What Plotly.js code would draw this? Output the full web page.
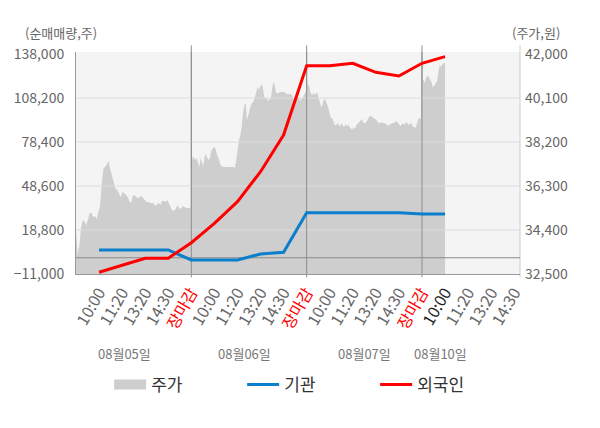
<!DOCTYPE html>
<html>
<head>
<meta charset="utf-8">
<script src="https://cdn.plot.ly/plotly-3.0.1.min.js"></script>
<style>
  html, body { margin: 0; padding: 0; background: #fff; }
  #myDiv { width: 600px; height: 428px; }
</style>
</head>
<body>
<div id="myDiv"></div>
<script>
const config = {
    displayModeBar: false,
    staticPlot: true
};

// 날짜 / 시간 눈금
var days = ['08월05일', '08월06일', '08월07일', '08월10일'];
var sessionTicks = ['10:00', '11:20', '13:20', '14:30', '장마감'];
var lastDayTicks = ['10:00', '11:20', '13:20', '14:30'];

// 주가 (원) - 일별 분 단위
var price0805 = [34400, 33350, 33750, 34530, 34830, 34750, 34620, 34920, 35130, 35130, 34960, 35000, 34870, 35180, 35440,
    36430, 37080, 37120, 37290, 37380, 36990, 36690, 36430, 36170, 36130, 36000, 35820, 36040, 36000, 35910, 35820,
    35650, 35570, 35870, 35910, 35820, 35780, 35820, 35870, 35780, 35700, 35610, 35610, 35570, 35570, 35570, 35440,
    35520, 35570, 35480, 35650, 35650, 35610, 35700, 35570, 35390, 35220, 35260, 35310, 35480, 35350, 35310, 35440,
    35390, 35350, 35350, 35350, 35350];
var price0806 = [37130, 37570, 37510, 37420, 37510, 37290, 37120, 37510, 37290, 37160, 37550, 37680, 37510, 37420, 37510,
    37810, 37900, 37980, 37940, 37720, 37550, 37420, 37210, 37160, 37120, 37120, 37120, 37120, 37120, 37120, 37120,
    37120, 37120, 37080, 37550, 38070, 38290, 38500, 38850, 39450, 39800, 39880, 39150, 39370, 39580, 39800, 39880,
    39970, 40140, 40360, 40580, 40450, 40620, 40700, 40530, 40140, 40060, 40100, 39970, 40060, 40100, 40490, 40790,
    40620, 40320, 40320, 40320, 40360, 40360, 40360, 40360, 40320, 40270, 40270, 40270, 40270, 40230, 40060, 39930,
    40100, 40100, 40140, 39970, 40060, 40100, 40230, 40360, 40450];
var price0807 = [40660, 40730, 40570, 40320, 40230, 40320, 40230, 40320, 40320, 40140, 39880, 39670, 39880, 40060, 40010,
    39880, 39710, 39450, 39240, 39240, 39060, 38930, 38930, 39020, 38930, 38890, 39020, 38890, 38850, 38980, 38890,
    38930, 38850, 38800, 38720, 38850, 38760, 38930, 38980, 39060, 39110, 39190, 39060, 39020, 39020, 39110, 39240,
    39320, 39320, 39280, 39240, 39190, 39150, 39060, 39020, 39020, 39060, 39020, 39020, 38980, 38930, 38890, 38980,
    38980, 39020, 39020, 39060, 39110, 39020, 38980, 38890, 38980, 39020, 38930, 39060, 39020, 38930, 38980, 39020,
    38890, 38850, 38800, 38930, 39150, 39240, 39190, 39190];
var price0810 = [40750, 40880, 40750, 40960, 41050, 41010, 40920, 40790, 40570, 40620, 40750, 40790, 41180, 41520, 41440,
    41570, 41610, 41610];

// 순매매량 (주) - 시간 눈금별 누적
var institution = [5260, 5260, 5260, 5260, -1520, -1520, -1520, 2550, 3700, 30520, 30520, 30520, 30520, 30520, 29640, 29640];
var foreign = [-9850, -4900, -300, -300, 10200, 23340, 37970, 58290, 83150, 130080, 130080, 131710, 125610, 123100, 131710, 136180];

// 축 눈금
var volumeTicks = [-11000, 18800, 48600, 78400, 108200, 138000];
var priceTicks = [32500, 34400, 36300, 38200, 40100, 42000];

// ---- 가로축 위치 계산 ----
var daySpan = sessionTicks.length;
var priceDays = [price0805, price0806, price0807, price0810];
var lastDaySpan = 1; // 08월10일은 10:00 까지

var priceX = [], priceY = [];
priceDays.forEach(function (arr, d) {
    var span = d === priceDays.length - 1 ? lastDaySpan : daySpan;
    arr.forEach(function (v, i) {
        priceX.push(d * daySpan + span * i / (arr.length - 1));
        priceY.push(v);
    });
});

var tickText = [];
days.forEach(function (day, d) {
    var labels = d === days.length - 1 ? lastDayTicks : sessionTicks;
    labels.forEach(function (t, i) {
        if (t === '장마감') tickText.push('<span style="color:#ff0000">' + t + '</span>');
        else if (d === days.length - 1 && i === 0) tickText.push('<span style="color:#222222">' + t + '</span>');
        else tickText.push(t);
    });
});
var tickVals = tickText.map(function (t, i) { return i + 1; });
var lineX = institution.map(function (v, i) { return i + 1; });

var xMax = tickVals.length + 0.25;
var boundaries = [1, 2, 3].map(function (d) { return d * daySpan; });

var volRange = [-11000, 139350];
var priceRange = [32500, 42086];

var data = [
    // 범례용 (사각형 기호)
    {
        type: 'scatter',
        mode: 'lines',
        name: '주가',
        x: [null],
        y: [null],
        yaxis: 'y',
        line: { color: '#cecece', width: 14 },
        hoverinfo: 'skip'
    },
    {
        type: 'scatter',
        mode: 'lines',
        name: '주가',
        x: priceX,
        y: priceY,
        yaxis: 'y',
        fill: 'tozeroy',
        fillcolor: '#cecece',
        showlegend: false,
        line: { color: '#cecece', width: 0 },
        hoverinfo: 'skip'
    }
];

// 격자선 (주가 영역 위)
volumeTicks.slice(1, -1).forEach(function (v) {
    data.push({
        type: 'scatter', mode: 'lines', x: [0, xMax], y: [v, v], yaxis: 'y2',
        showlegend: false, hoverinfo: 'skip',
        line: { color: '#dcdcdc', width: 1 }
    });
});
data.push({
    type: 'scatter', mode: 'lines', x: [0, xMax], y: [0, 0], yaxis: 'y2',
    showlegend: false, hoverinfo: 'skip',
    line: { color: '#8a8a8a', width: 1 }
});
boundaries.forEach(function (b) {
    data.push({
        type: 'scatter', mode: 'lines', x: [b, b], y: volRange, yaxis: 'y2',
        showlegend: false, hoverinfo: 'skip',
        line: { color: '#8f8f8f', width: 1 }
    });
});

data.push({
    type: 'scatter',
    mode: 'lines',
    name: '기관',
    x: lineX,
    y: institution,
    yaxis: 'y2',
    line: { color: '#0a7fcc', width: 3 }
});
data.push({
    type: 'scatter',
    mode: 'lines',
    name: '외국인',
    x: lineX,
    y: foreign,
    yaxis: 'y2',
    line: { color: '#ff0000', width: 3 }
});

var shapes = boundaries.map(function (b) {
    return {
        type: 'line', layer: 'below', xref: 'x', yref: 'paper',
        x0: b, x1: b, y0: -0.015, y1: 1.03,
        line: { color: '#8f8f8f', width: 1 }
    };
});
shapes.push({
    type: 'line', layer: 'below', xref: 'paper', yref: 'paper',
    x0: 1, x1: 1, y0: -0.015, y1: 1.03,
    line: { color: '#cccccc', width: 1 }
});

var dateLabelX = [2.1, 7.3, 12.5, 15.8];
var annotations = days.map(function (day, d) {
    return {
        text: day, x: dateLabelX[d], xref: 'x', y: -0.356, yref: 'paper',
        showarrow: false, xanchor: 'center', yanchor: 'middle',
        font: { size: 13, color: '#777777' }
    };
});
annotations.push({
    text: '(순매매량,주)', x: -0.034, xref: 'paper', y: 1.086, yref: 'paper',
    showarrow: false, xanchor: 'center', yanchor: 'middle',
    font: { size: 13, color: '#666666' }
});
annotations.push({
    text: '(주가,원)', x: 1.035, xref: 'paper', y: 1.086, yref: 'paper',
    showarrow: false, xanchor: 'center', yanchor: 'middle',
    font: { size: 13, color: '#666666' }
});

var layout = {
    width: 600,
    height: 428,
    margin: { l: 76, r: 80, t: 52, b: 154, pad: 0 },
    paper_bgcolor: '#ffffff',
    plot_bgcolor: '#f4f4f4',
    font: { family: 'Noto Sans CJK KR, Noto Sans, sans-serif', size: 14, color: '#666666' },
    showlegend: true,
    legend: {
        orientation: 'h',
        x: 0.524, xanchor: 'center',
        y: -0.5, yanchor: 'middle',
        entrywidth: 86,
        itemwidth: 32,
        font: { size: 17, color: '#333333' }
    },
    xaxis: {
        range: [0, xMax],
        tickmode: 'array',
        tickvals: tickVals,
        ticktext: tickText,
        tickangle: -60,
        ticks: '',
        showgrid: false,
        zeroline: false,
        showline: true,
        linecolor: '#999999',
        linewidth: 1,
        ticklabelstandoff: 2,
        tickfont: { size: 16, color: '#666666' }
    },
    yaxis: {
        side: 'right',
        range: priceRange,
        tickmode: 'array',
        tickvals: priceTicks,
        tickformat: ',d',
        showgrid: false,
        zeroline: false,
        showline: false,
        ticks: '',
        ticklabelstandoff: 4,
        tickfont: { size: 14, color: '#666666' }
    },
    yaxis2: {
        side: 'left',
        overlaying: 'y',
        range: volRange,
        tickmode: 'array',
        tickvals: volumeTicks,
        tickformat: ',d',
        showgrid: false,
        zeroline: false,
        showline: true,
        linecolor: '#999999',
        linewidth: 1,
        ticks: '',
        ticklabelstandoff: 8,
        tickfont: { size: 14, color: '#666666' }
    },
    shapes: shapes,
    annotations: annotations
};

Plotly.newPlot('myDiv', data, layout, config);
</script>
</body>
</html>
